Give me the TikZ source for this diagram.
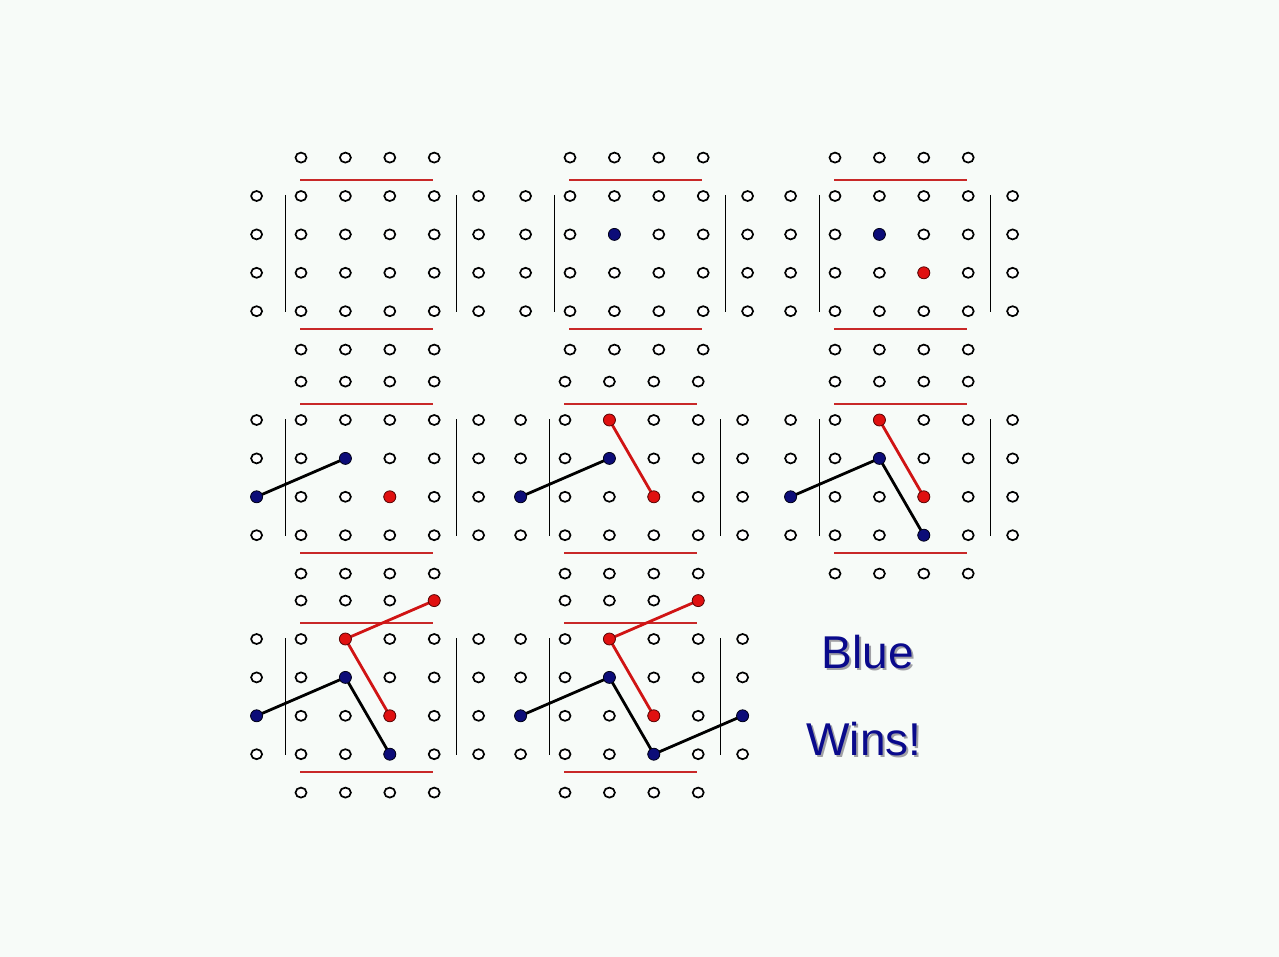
\documentclass[tikz,border=0pt]{standalone}
\usepackage{fontspec}
\setmainfont{Liberation Sans}
\usetikzlibrary{shapes.geometric}
\definecolor{bgc}{RGB}{247,251,248}
\definecolor{navyb}{RGB}{12,12,120}
\definecolor{stonered}{RGB}{224,16,16}
\definecolor{linered}{RGB}{208,20,20}
\definecolor{edgered}{RGB}{200,40,40}
\definecolor{textblue}{RGB}{10,10,140}
\definecolor{shadowgray}{RGB}{160,160,165}
\tikzset{
  pt/.style={ellipse,draw=black,line width=1.7pt,fill=white,minimum width=11pt,minimum height=10pt,inner sep=0pt},
  bstone/.style={circle,draw=black!80!navyb,line width=0.8pt,fill=navyb,minimum size=12pt,inner sep=0pt},
  rstone/.style={circle,draw=black!60!stonered,line width=0.8pt,fill=stonered,minimum size=12pt,inner sep=0pt},
  blueconn/.style={draw=black,line width=2.8pt},
  redconn/.style={draw=linered,line width=2.8pt},
  sideline/.style={draw=black,line width=1pt},
  edgeline/.style={draw=edgered,line width=1.1pt},
  wintext/.style={font=\fontsize{46}{50}\selectfont,text=textblue,anchor=base,inner sep=0pt},
  shadowtext/.style={font=\fontsize{46}{50}\selectfont,text=shadowgray,anchor=base,inner sep=0pt}
}
\newcommand\gameboard[3]{%
  \foreach \c in {0,...,5}{\foreach \r in {1,...,4}{%
    \node[pt] (#1-\c-\r) at ({#2+(\c-1)*44.4},{#3+(\r-1)*38.4}) {};}}
  \foreach \c in {1,...,4}{%
    \node[pt] (#1-\c-0) at ({#2+(\c-1)*44.4},{#3-38.4}) {};
    \node[pt] (#1-\c-5) at ({#2+(\c-1)*44.4},{#3+4*38.4}) {};}
  \draw[sideline] ({#2-16},{#3-1}) -- ({#2-16},{#3+116});
  \draw[sideline] ({#2+155},{#3-1}) -- ({#2+155},{#3+116});
  \draw[edgeline] ({#2-1},{#3-16}) -- ({#2+132},{#3-16});
  \draw[edgeline] ({#2-1},{#3+133}) -- ({#2+132},{#3+133});
}
\begin{document}
\begin{tikzpicture}[x=1pt,y=-1pt]
\fill[bgc] (0,0) rectangle (1279,957);
\useasboundingbox (0,0) rectangle (1279,957);
% boards
\gameboard{ba}{301}{196}
\gameboard{bb}{570}{196}
\gameboard{bc}{835}{196}
\gameboard{bd}{301}{420}
\gameboard{be}{565}{420}
\gameboard{bf}{835}{420}
\gameboard{bg}{301}{639}
\gameboard{bh}{565}{639}
% connectors
\draw[blueconn] (bd-0-3.center) -- (bd-2-2.center);
\draw[blueconn] (be-0-3.center) -- (be-2-2.center);
\draw[redconn] (be-2-1.center) -- (be-3-3.center);
\draw[blueconn] (bf-0-3.center) -- (bf-2-2.center) -- (bf-3-4.center);
\draw[redconn] (bf-2-1.center) -- (bf-3-3.center);
\draw[blueconn] (bg-0-3.center) -- (bg-2-2.center) -- (bg-3-4.center);
\draw[redconn] (bg-4-0.center) -- (bg-2-1.center) -- (bg-3-3.center);
\draw[blueconn] (bh-0-3.center) -- (bh-2-2.center) -- (bh-3-4.center) -- (bh-5-3.center);
\draw[redconn] (bh-4-0.center) -- (bh-2-1.center) -- (bh-3-3.center);
% stones
\node[bstone] (sb1) at (bb-2-2) {};
\node[bstone] (sc1) at (bc-2-2) {};
\node[rstone] (sc2) at (bc-3-3) {};
\node[bstone] (sd1) at (bd-0-3) {};
\node[bstone] (sd2) at (bd-2-2) {};
\node[rstone] (sd3) at (bd-3-3) {};
\node[bstone] (se1) at (be-0-3) {};
\node[bstone] (se2) at (be-2-2) {};
\node[rstone] (se3) at (be-2-1) {};
\node[rstone] (se4) at (be-3-3) {};
\node[bstone] (sf1) at (bf-0-3) {};
\node[bstone] (sf2) at (bf-2-2) {};
\node[bstone] (sf3) at (bf-3-4) {};
\node[rstone] (sf4) at (bf-2-1) {};
\node[rstone] (sf5) at (bf-3-3) {};
\node[bstone] (sg1) at (bg-0-3) {};
\node[bstone] (sg2) at (bg-2-2) {};
\node[bstone] (sg3) at (bg-3-4) {};
\node[rstone] (sg4) at (bg-4-0) {};
\node[rstone] (sg5) at (bg-2-1) {};
\node[rstone] (sg6) at (bg-3-3) {};
\node[bstone] (sh1) at (bh-0-3) {};
\node[bstone] (sh2) at (bh-2-2) {};
\node[bstone] (sh3) at (bh-3-4) {};
\node[bstone] (sh4) at (bh-5-3) {};
\node[rstone] (sh5) at (bh-4-0) {};
\node[rstone] (sh6) at (bh-2-1) {};
\node[rstone] (sh7) at (bh-3-3) {};
% text
\node[shadowtext] (blueshadow) at (870,670) {Blue};
\node[wintext] (bluetext) at (868,668) {Blue};
\node[shadowtext] (winsshadow) at (866,757) {Wins!};
\node[wintext] (winstext) at (864,755) {Wins!};
\end{tikzpicture}
\end{document}
